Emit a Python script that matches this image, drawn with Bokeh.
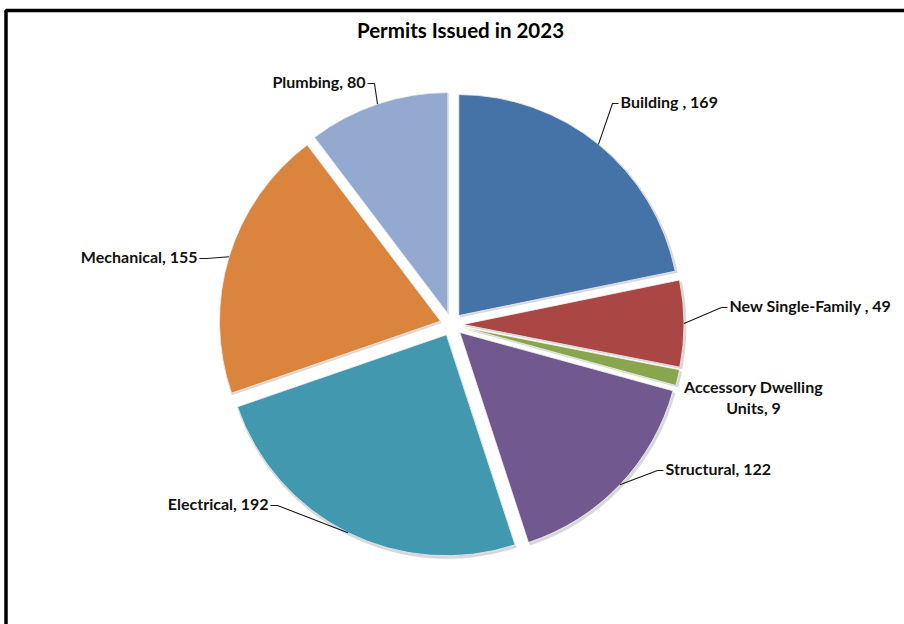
import numpy as np
from bokeh.plotting import figure
from bokeh.models import Range1d
from bokeh.core.properties import value
from bokeh.embed import file_html
from bokeh.resources import INLINE

# ---- data ----
categories = ["Building", "New Single-Family", "Accessory Dwelling Units",
              "Structural", "Electrical", "Mechanical", "Plumbing"]
counts = [169, 49, 9, 122, 192, 155, 80]
label_texts = ["Building , 169", "New Single-Family , 49", "Accessory Dwelling\nUnits, 9",
               "Structural, 122", "Electrical, 192", "Mechanical, 155", "Plumbing, 80"]
colors = ["#4572A7", "#AA4643", "#89A54E", "#71588F", "#4198AF", "#DB843D", "#93A9CF"]
title_text = "Permits Issued in 2023"

# ---- layout (pixel coordinates, y measured from top) ----
W, H = 904, 624
CX, CY = 451, H - 324
R = 221
EXPLODE = 11.5
FONT = "Lato"
# (anchor x, anchor y from top, align, has leader)
label_layout = [
    (620, 101, "left", True),
    (729, 305, "left", True),
    (753, 386, "center", False),
    (665, 468, "left", True),
    (268, 503, "right", True),
    (197, 256, "right", True),
    (365, 81, "right", True),
]

p = figure(width=W, height=H, x_range=Range1d(0, W), y_range=Range1d(0, H),
           x_axis_type=None, y_axis_type=None, toolbar_location=None,
           output_backend="svg", min_border=0, outline_line_color=None)
p.grid.visible = False
p.background_fill_color = "white"
p.border_fill_color = "white"

vals = np.array(counts, dtype=float)
total = vals.sum()
cum = np.cumsum(vals)
a_start = np.pi / 2 - 2 * np.pi * (cum - vals) / total
a_end = np.pi / 2 - 2 * np.pi * cum / total
mid = (a_start + a_end) / 2
vx = CX + EXPLODE * np.cos(mid)
vy = CY + EXPLODE * np.sin(mid)

# soft shadow
p.wedge(x=vx + 1.2, y=vy - 1.8, radius=R + 1.2, start_angle=a_end, end_angle=a_start,
        fill_color="#b8b8b8", fill_alpha=0.55, line_color=None)
# slices
p.wedge(x=vx, y=vy, radius=R, start_angle=a_end, end_angle=a_start,
        fill_color=colors, line_color="#f2f2f2", line_width=0.8)

# leader lines and labels
lx, ly = [], []
for i, (ax, ay, align, leader) in enumerate(label_layout):
    ey = H - ay
    if leader:
        ex = vx[i] + R * np.cos(mid[i])
        eyy = vy[i] + R * np.sin(mid[i])
        if align == "left":
            pts_x = [ex, ax - 8, ax - 2]
        else:
            pts_x = [ex, ax + 9, ax + 2]
        pts_y = [eyy, ey - 2, ey - 2]
        lx.append(pts_x)
        ly.append(pts_y)
    lines = label_texts[i].split("\n")
    for j, t in enumerate(lines):
        p.text(x=[ax], y=[ey - j * 21], text=[t], text_align=align,
               text_baseline="middle", text_font=value(FONT), text_font_style="bold",
               text_font_size="16px", text_color="#111111")
p.multi_line(xs=lx, ys=ly, line_color="#1a1a1a", line_width=1.1)

# title
p.text(x=[460], y=[H - 29], text=[title_text], text_align="center", text_baseline="middle",
       text_font=value(FONT), text_font_style="bold", text_font_size="20.5px",
       text_color="#000000")

# frame (partially visible in the reference)
p.line(x=[5.5, 5.5, W + 5], y=[-5, H - 10, H - 10], line_color="black", line_width=3.5)

open("out.html", "w").write(file_html(p, INLINE))
